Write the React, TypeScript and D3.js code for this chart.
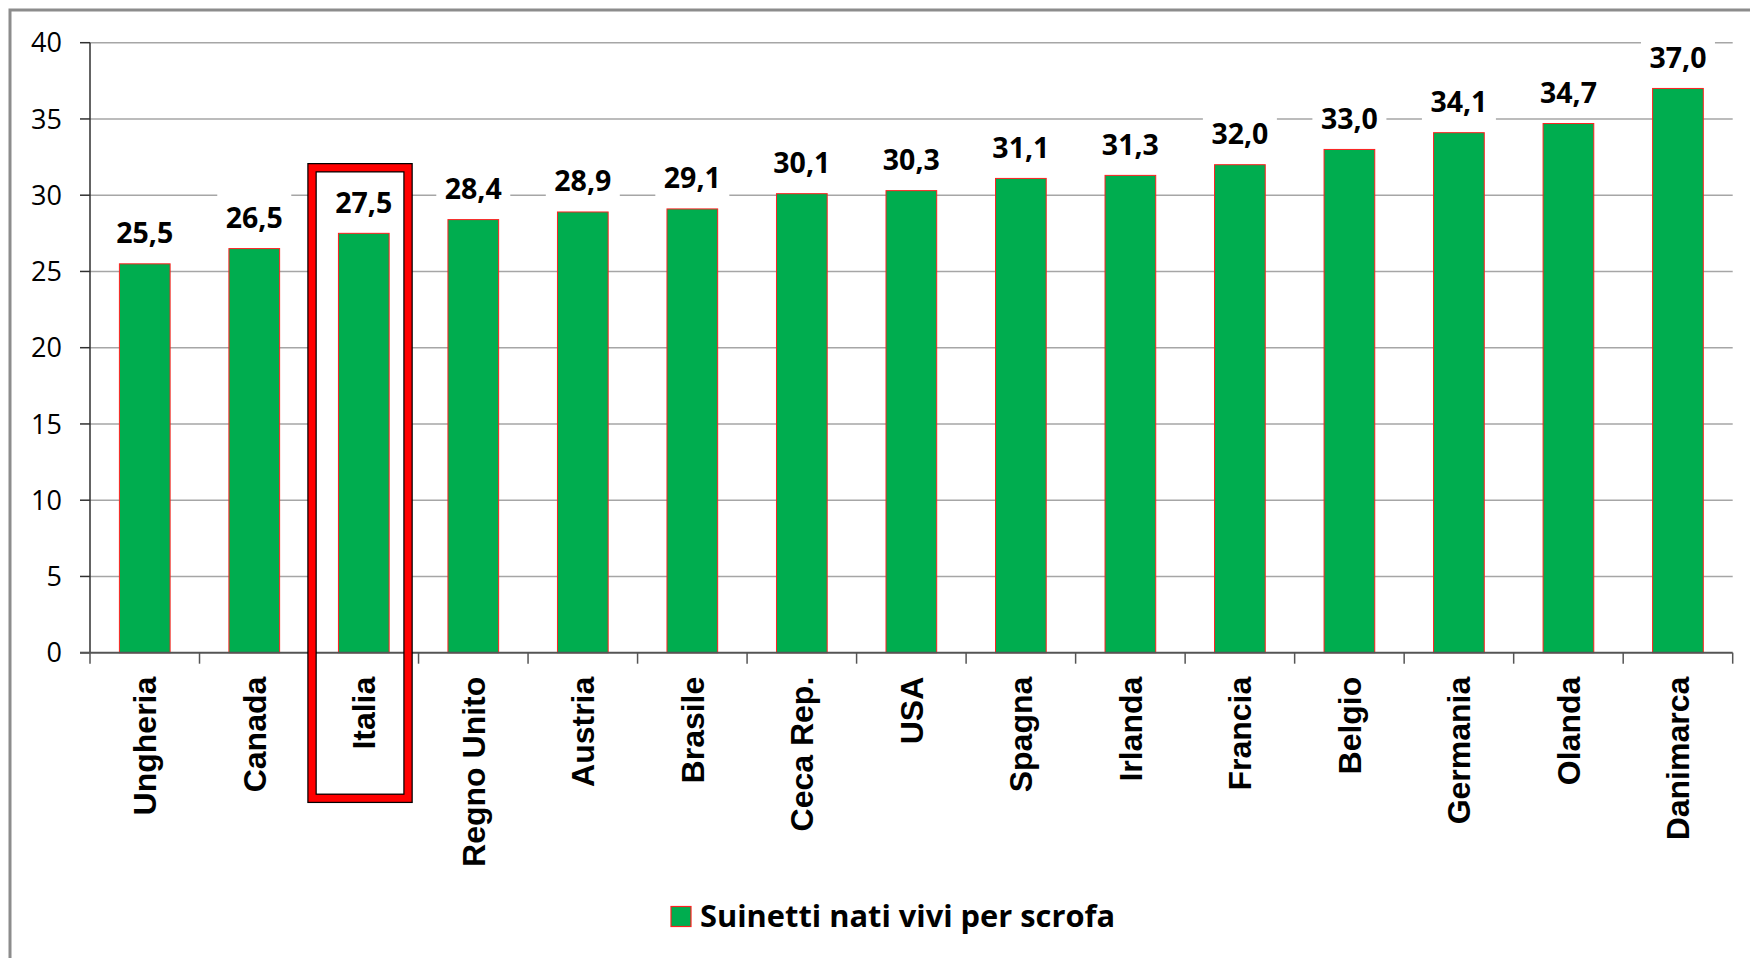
import React from "react";
import * as d3 from "d3";

const categories = [
  "Ungheria", "Canada", "Italia", "Regno Unito", "Austria", "Brasile", "Ceca Rep.", "USA",
  "Spagna", "Irlanda", "Francia", "Belgio", "Germania", "Olanda", "Danimarca",
];
const values = [25.5, 26.5, 27.5, 28.4, 28.9, 29.1, 30.1, 30.3, 31.1, 31.3, 32.0, 33.0, 34.1, 34.7, 37.0];
const yTicks = [0, 5, 10, 15, 20, 25, 30, 35, 40];
const seriesName = "Suinetti nati vivi per scrofa";
const highlighted = "Italia";

const W = 1750;
const H = 958;
const plotLeft = 90;
const plotRight = 1732.7;
const plotTop = 42.7;
const plotBottom = 652.7;

const GREEN = "#00AD4F";
const NUM_FONT = "'Open Sans', 'DejaVu Sans', sans-serif";
const CAT_FONT = "'Liberation Sans', Arial, sans-serif";

const fmt = (v: number) => d3.format(".1f")(v).replace(".", ",");

export default function App() {
  const x = d3
    .scaleBand<string>()
    .domain(categories)
    .range([plotLeft, plotRight])
    .paddingInner(0.537)
    .paddingOuter(0.2685);
  const y = d3.scaleLinear().domain([0, 40]).range([plotBottom, plotTop]);
  const step = x.step();
  const bw = x.bandwidth();
  const cx = (c: string) => (x(c) as number) + bw / 2;
  const boundaries = d3.range(categories.length + 1).map((i) => plotLeft + i * step);

  const hc = cx(highlighted);
  const frame = {
    x: hc - 51.75,
    y: y(31.8),
    w: 96,
    h: plotBottom + 145.6 - y(31.8),
  };

  return (
    <svg
      width={W}
      height={H}
      style={{ position: "fixed", left: 0, top: 0, background: "#fff" }}
    >
      <rect x={0} y={0} width={W} height={H} fill="#fff" />
      {/* outer chart border */}
      <rect x={10} y={10} width={W + 20} height={H + 20} fill="none" stroke="#8c8c8c" strokeWidth={3} />

      {/* gridlines */}
      {yTicks
        .filter((t) => t !== 0)
        .map((t) => (
          <line key={"g" + t} x1={plotLeft} x2={plotRight} y1={y(t)} y2={y(t)} stroke="#a6a6a6" strokeWidth={1.5} />
        ))}

      {/* highlight frame fill */}
      <rect x={frame.x} y={frame.y} width={frame.w} height={frame.h} fill="#fff" />

      {/* bars */}
      {categories.map((c, i) => (
        <rect
          key={"b" + c}
          x={x(c)}
          y={y(values[i])}
          width={bw}
          height={y(0) - y(values[i])}
          fill={GREEN}
          stroke="#ff2020"
          strokeWidth={1}
        />
      ))}

      {/* y axis */}
      <line x1={plotLeft} x2={plotLeft} y1={plotTop} y2={plotBottom} stroke="#303030" strokeWidth={1.5} />
      {yTicks.map((t) => (
        <g key={"yt" + t}>
          <line x1={plotLeft - 10} x2={plotLeft} y1={y(t)} y2={y(t)} stroke="#303030" strokeWidth={1.5} />
          <text
            x={plotLeft - 28}
            y={y(t)}
            dy="0.36em"
            textAnchor="end"
            fontFamily={NUM_FONT}
            fontSize={27}
            fill="#000"
          >
            {t}
          </text>
        </g>
      ))}

      {/* x axis */}
      <line x1={plotLeft - 10} x2={plotRight} y1={plotBottom} y2={plotBottom} stroke="#555" strokeWidth={2} />
      {boundaries.map((b, i) => (
        <line key={"xt" + i} x1={b} x2={b} y1={plotBottom} y2={plotBottom + 11} stroke="#555" strokeWidth={1.5} />
      ))}

      {/* highlight frame stroke */}
      <rect x={frame.x} y={frame.y} width={frame.w} height={frame.h} fill="none" stroke="#000" strokeWidth={9.5} />
      <rect x={frame.x} y={frame.y} width={frame.w} height={frame.h} fill="none" stroke="#ff0000" strokeWidth={7} />

      {/* category labels */}
      {categories.map((c) => (
        <text
          key={"xl" + c}
          transform={`translate(${cx(c)},${plotBottom + 24}) rotate(-90)`}
          dy="0.36em"
          textAnchor="end"
          fontFamily={CAT_FONT}
          fontWeight="bold"
          fontSize={32}
          fill="#000"
        >
          {c}
        </text>
      ))}

      {/* value labels */}
      {categories.map((c, i) => {
        const base = y(values[i]) - 20.5;
        return (
          <g key={"vl" + c}>
            <rect x={cx(c) - 37} y={base - 34.5} width={74} height={44} fill="#fff" />
            <text
              x={cx(c)}
              y={base}
              textAnchor="middle"
              fontFamily={NUM_FONT}
              fontWeight="bold"
              fontSize={28.5}
              fill="#000"
            >
              {fmt(values[i])}
            </text>
          </g>
        );
      })}

      {/* legend */}
      <rect x={671} y={906.5} width={20} height={20} fill={GREEN} stroke="#ff2020" strokeWidth={1.2} />
      <text x={700} y={926.7} fontFamily={NUM_FONT} fontWeight="bold" fontSize={30.8} fill="#000">
        {seriesName}
      </text>
    </svg>
  );
}
